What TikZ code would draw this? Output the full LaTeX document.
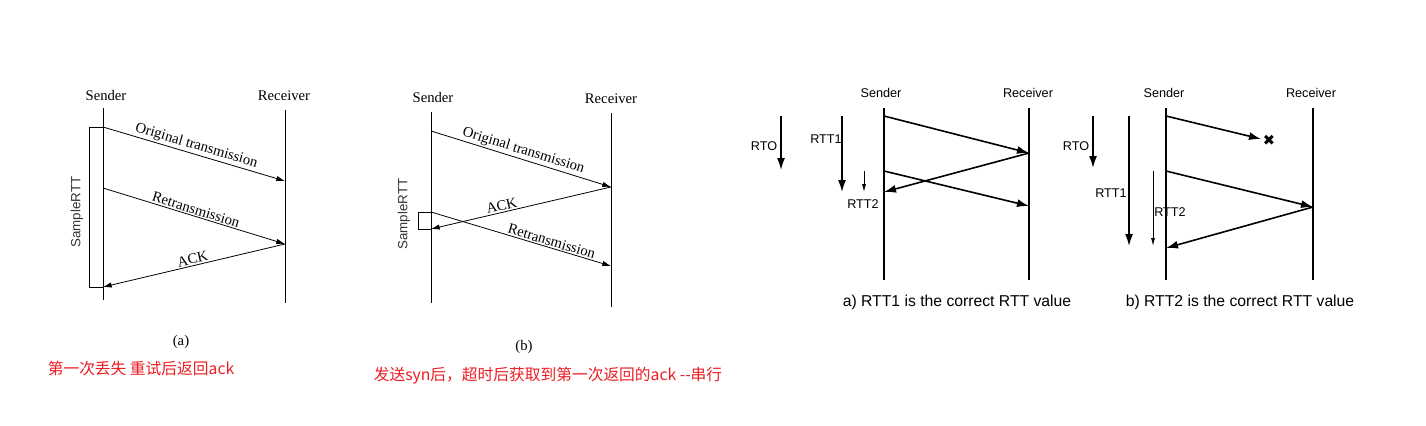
\documentclass[tikz,border=0pt]{standalone}
\usepackage{fontspec}
\setmainfont{Liberation Serif}
\setsansfont{Liberation Sans}
\newfontfamily\cjk{Noto Sans CJK SC}
\newfontfamily\symb{DejaVu Sans}
\usetikzlibrary{arrows.meta}
\definecolor{notered}{RGB}{236,28,36}

\begin{document}
\begin{tikzpicture}[x=0.75pt, y=-0.75pt,
  book/.style={font=\fontsize{11}{12}\selectfont},
  plain/.style={font=\sffamily\fontsize{9.5}{11}\selectfont},
  rttlabel/.style={font=\sffamily\fontsize{10}{12}\selectfont, text=black!80},
  msg/.style={-{Latex[length=6.5pt,width=4pt]}, line width=0.6pt},
  boldmsg/.style={-{Latex[length=9pt,width=6pt]}, line width=1.2pt},
  timer/.style={-{Latex[length=9pt,width=6pt]}, line width=1.2pt},
  thintimer/.style={-{Latex[length=6pt,width=3pt]}, line width=0.6pt},
  note/.style={text=notered, font=\cjk\fontsize{11.8}{13}\selectfont},
  caption/.style={font=\sffamily\fontsize{11.8}{13}\selectfont}
]
\useasboundingbox (0,0) rectangle (1426,425);

% (a)
\node[book] (sa) at (106,95) {Sender};
\node[book] (ra) at (284,96) {Receiver};
\coordinate (sa top) at (103,108); \coordinate (sa bot) at (103,300);
\coordinate (ra top) at (285,110); \coordinate (ra bot) at (285,303);
\draw[line width=0.6pt] (sa top) -- (sa bot);
\draw[line width=0.6pt] (ra top) -- (ra bot);
\coordinate (a1) at (103,127); \coordinate (a2) at (285,181);
\coordinate (a3) at (103,188); \coordinate (a4) at (285,244);
\coordinate (a5) at (103,287);
\draw[msg] (a1) -- node[book, midway, above, sloped, inner sep=1pt] {Original transmission} (a2);
\draw[msg] (a3) -- node[book, midway, above, sloped, inner sep=1pt] {Retransmission} (a4);
\draw[msg] (a4) -- node[book, midway, above, sloped, inner sep=1pt] {ACK} (a5);
\draw[line width=0.6pt] (a1) -- ++(-14,0) |- (a5);
\node[rttlabel, rotate=90] (srtta) at (77,212) {SampleRTT};
\node[book] (capa) at (181,342) {(a)};
\node[note] (notea) at (141,369) {第一次丢失 重试后返回ack};

% (b)
\node[book] (sb) at (433,97) {Sender};
\node[book] (rb) at (611,99) {Receiver};
\coordinate (sb top) at (431,112); \coordinate (sb bot) at (431,303);
\coordinate (rb top) at (611,113); \coordinate (rb bot) at (611,307);
\draw[line width=0.6pt] (sb top) -- (sb bot);
\draw[line width=0.6pt] (rb top) -- (rb bot);
\coordinate (b1) at (431,131); \coordinate (b2) at (611,187);
\coordinate (b3) at (431,229); \coordinate (b4) at (431,212);
\coordinate (b5) at (611,266);
\draw[msg] (b1) -- node[book, midway, above, sloped, inner sep=1pt] {Original transmission} (b2);
\draw[msg] (b2) -- node[book, pos=0.6, above, sloped, inner sep=1pt] {ACK} (b3);
\draw[msg] (b4) -- node[book, pos=0.66, above, sloped, inner sep=1pt] {Retransmission} (b5);
\draw[line width=0.6pt] (b4) -- ++(-13,0) |- (b3);
\node[rttlabel, rotate=90] (srttb) at (404,214) {SampleRTT};
\node[book] (capb) at (524,347) {(b)};
\node[note] (noteb) at (548,376) {发送syn后，超时后获取到第一次返回的ack --串行};

% a) RTT1
\node[plain] (sc) at (881,93) {Sender};
\node[plain] (rc) at (1028,93) {Receiver};
\coordinate (sc top) at (884,108); \coordinate (sc bot) at (884,280);
\coordinate (rc top) at (1029,108); \coordinate (rc bot) at (1029,280);
\draw[line width=0.8pt] (sc top) -- (sc bot);
\draw[line width=0.8pt] (rc top) -- (rc bot);
\coordinate (c1) at (884,116); \coordinate (c2) at (1029,153);
\coordinate (c3) at (884,192); \coordinate (c4) at (884,171);
\coordinate (c5) at (1029,206);
\draw[boldmsg] (c1) -- (c2);
\draw[boldmsg] (c2) -- (c3);
\draw[boldmsg] (c4) -- (c5);
\coordinate (rtoc top) at (781,116); \coordinate (rtoc bot) at (781,170);
\draw[timer] (rtoc top) -- (rtoc bot);
\node[plain] (rtoc) at (764,146) {RTO};
\coordinate (rtt1c top) at (842,116); \coordinate (rtt1c bot) at (842,192);
\draw[timer] (rtt1c top) -- (rtt1c bot);
\node[plain] (rtt1c) at (826,139) {RTT1};
\coordinate (rtt2c top) at (864,171); \coordinate (rtt2c bot) at (864,192);
\draw[thintimer] (rtt2c top) -- (rtt2c bot);
\node[plain] (rtt2c) at (863,204) {RTT2};
\node[caption] (capc) at (957,302) {a) RTT1 is the correct RTT value};

% b) RTT2
\node[plain] (sd) at (1164,93) {Sender};
\node[plain] (rd) at (1311,93) {Receiver};
\coordinate (sd top) at (1166,108); \coordinate (sd bot) at (1166,280);
\coordinate (rd top) at (1313,108); \coordinate (rd bot) at (1313,280);
\draw[line width=0.8pt] (sd top) -- (sd bot);
\draw[line width=0.8pt] (rd top) -- (rd bot);
\coordinate (d1) at (1166,116);
\node[font=\symb\fontsize{11}{13}\selectfont, inner sep=0pt] (lost) at (1269,140) {✖};
\coordinate (d2) at (1261,139);
\coordinate (d3) at (1166,171); \coordinate (d4) at (1313,207);
\coordinate (d5) at (1166,248);
\draw[boldmsg] (d1) -- (d2);
\draw[boldmsg] (d3) -- (d4);
\draw[boldmsg] (d4) -- (d5);
\coordinate (rtod top) at (1093,116); \coordinate (rtod bot) at (1093,168);
\draw[timer] (rtod top) -- (rtod bot);
\node[plain] (rtod) at (1076,146) {RTO};
\coordinate (rtt1d top) at (1129,116); \coordinate (rtt1d bot) at (1129,246);
\draw[timer] (rtt1d top) -- (rtt1d bot);
\node[plain] (rtt1d) at (1111,193) {RTT1};
\coordinate (rtt2d top) at (1153,171); \coordinate (rtt2d bot) at (1153,246);
\draw[thintimer] (rtt2d top) -- (rtt2d bot);
\node[plain] (rtt2d) at (1170,212) {RTT2};
\node[caption] (capd) at (1240,302) {b) RTT2 is the correct RTT value};
\end{tikzpicture}
\end{document}
